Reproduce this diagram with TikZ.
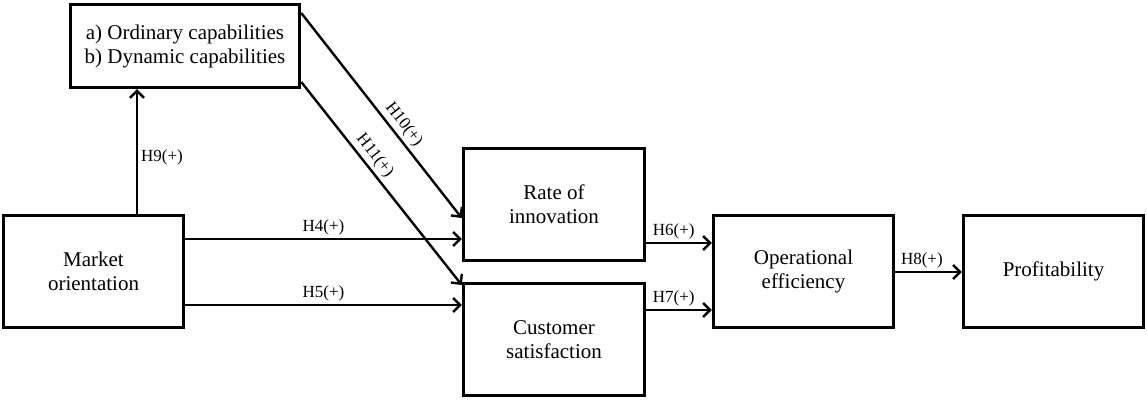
\documentclass[tikz,border=0pt]{standalone}
\usepackage{fontspec}
\setmainfont{Liberation Serif}
\usetikzlibrary{arrows.meta}
\begin{document}
\begin{tikzpicture}[x=1pt,y=1pt,
  box/.style={draw,line width=3.5pt,rectangle,align=center,inner sep=0pt,
    font=\fontsize{21}{24}\selectfont},
  arr/.style={line width=2.4pt,-{Straight Barb[length=7pt,width=14pt]}},
  lab/.style={font=\fontsize{17}{18}\selectfont,inner sep=3pt}]
\useasboundingbox (0,0) rectangle (1147,399);
\node[box,minimum width=229pt,minimum height=83pt] (cap) at (185,353)
  {a) Ordinary capabilities\\b) Dynamic capabilities};
\node[box,minimum width=180pt,minimum height=112pt] (mkt) at (93.5,127.5) {Market\\orientation};
\node[box,minimum width=181pt,minimum height=112pt] (rate) at (554,194.5) {Rate of\\innovation};
\node[box,minimum width=181pt,minimum height=112pt] (cust) at (554,59.5) {Customer\\satisfaction};
\node[box,minimum width=180pt,minimum height=112pt] (op) at (803.5,127.5) {Operational\\efficiency};
\node[box,minimum width=180pt,minimum height=112pt] (prof) at (1053.5,127.5) {Profitability};
% H9
\draw[arr] (137,0 |- mkt.north) -- node[lab,right,pos=0.45] {H9(+)} (137,0 |- cap.south);
% H4, H5
\draw[arr] (mkt.east |- 0,160) -- node[lab,above,pos=0.5] {H4(+)} (rate.west |- 0,160);
\draw[arr] (mkt.east |- 0,94) -- node[lab,above,pos=0.5] {H5(+)} (cust.west |- 0,94);
% H6, H7, H8
\draw[arr] (rate.east |- 0,156) -- node[lab,above,pos=0.42] {H6(+)} (op.west |- 0,156);
\draw[arr] (cust.east |- 0,89) -- node[lab,above,pos=0.42] {H7(+)} (op.west |- 0,89);
\draw[arr] (op.east |- 0,127) -- node[lab,above,pos=0.4] {H8(+)} (prof.west |- 0,127);
% H10, H11
\draw[arr] (cap.east |- 0,386) -- node[lab,sloped,above,pos=0.58] {H10(+)} (rate.west |- 0,181);
\draw[arr] (cap.east |- 0,317) -- node[lab,sloped,above,pos=0.4] {H11(+)} (cust.west |- 0,114);
\end{tikzpicture}
\end{document}
